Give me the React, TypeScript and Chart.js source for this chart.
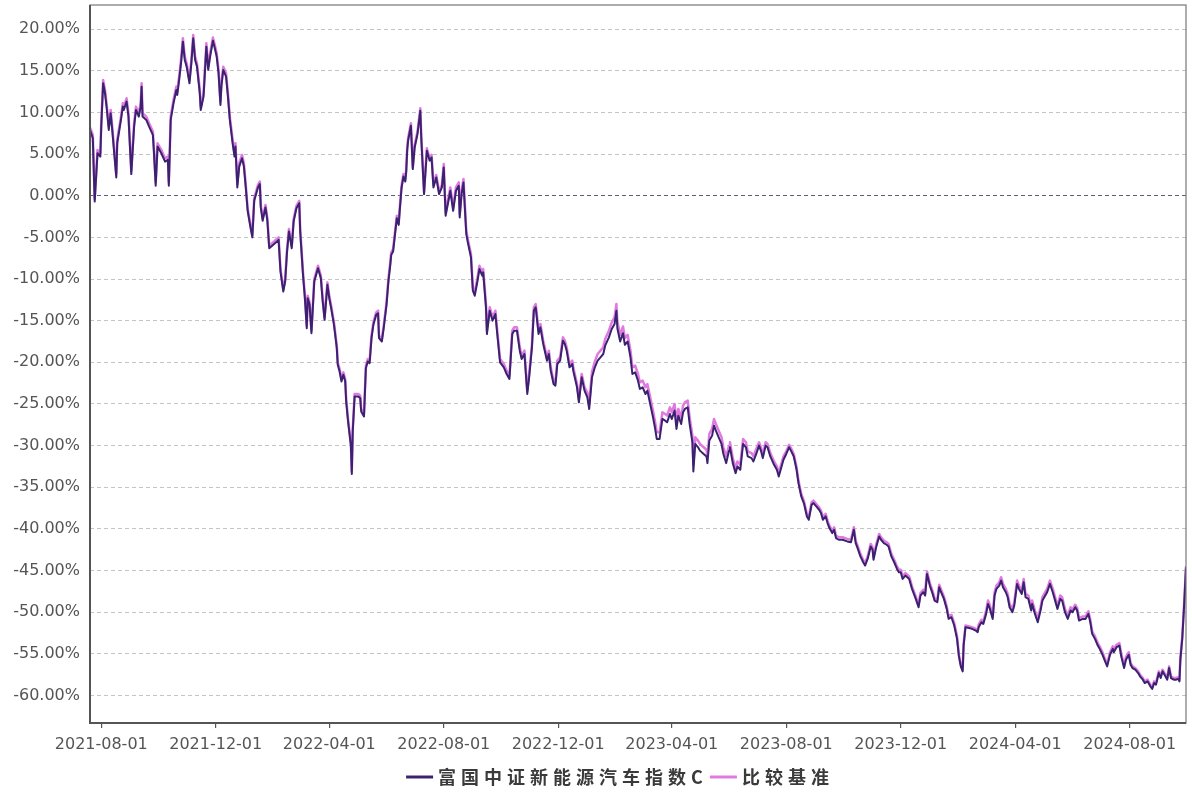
import React, { useEffect, useRef } from "react";
import { Chart, registerables } from "chart.js";

Chart.register(...registerables);

const seriesNames = ["富国中证新能源汽车指数C", "比较基准"];
const seriesColors = ["#3a2270", "#e07ae0"];

const dates = [
  "2021-07-20", "2021-07-23", "2021-07-25", "2021-07-28", "2021-07-31",
  "2021-08-01", "2021-08-03", "2021-08-05", "2021-08-07", "2021-08-09", "2021-08-11", "2021-08-13", "2021-08-17", "2021-08-18", "2021-08-22", "2021-08-24", "2021-08-25", "2021-08-28", "2021-08-30",
  "2021-09-02", "2021-09-05", "2021-09-07", "2021-09-10", "2021-09-12", "2021-09-13", "2021-09-14", "2021-09-18", "2021-09-21", "2021-09-25", "2021-09-26", "2021-09-28", "2021-09-30",
  "2021-10-04", "2021-10-08", "2021-10-11", "2021-10-12", "2021-10-14", "2021-10-17", "2021-10-20", "2021-10-21", "2021-10-23", "2021-10-25", "2021-10-27", "2021-10-29", "2021-10-31",
  "2021-11-03", "2021-11-05", "2021-11-07", "2021-11-09", "2021-11-11", "2021-11-14", "2021-11-15", "2021-11-18", "2021-11-21", "2021-11-23", "2021-11-25", "2021-11-28", "2021-11-30",
  "2021-12-02", "2021-12-04", "2021-12-06", "2021-12-07", "2021-12-09", "2021-12-12", "2021-12-14", "2021-12-16", "2021-12-19", "2021-12-21", "2021-12-22", "2021-12-24", "2021-12-26", "2021-12-29", "2021-12-31",
  "2022-01-02", "2022-01-04", "2022-01-07", "2022-01-09", "2022-01-11", "2022-01-15", "2022-01-17", "2022-01-18", "2022-01-20", "2022-01-23", "2022-01-25", "2022-01-27", "2022-01-31",
  "2022-02-06", "2022-02-08", "2022-02-11", "2022-02-13", "2022-02-15", "2022-02-17", "2022-02-20", "2022-02-22", "2022-02-25", "2022-02-28",
  "2022-03-01", "2022-03-04", "2022-03-06", "2022-03-08", "2022-03-09", "2022-03-11", "2022-03-13", "2022-03-16", "2022-03-18", "2022-03-20", "2022-03-23", "2022-03-25", "2022-03-27", "2022-03-30",
  "2022-04-01", "2022-04-03", "2022-04-06", "2022-04-09", "2022-04-10", "2022-04-12", "2022-04-14", "2022-04-16", "2022-04-18", "2022-04-19", "2022-04-21", "2022-04-24", "2022-04-25", "2022-04-26", "2022-04-28",
  "2022-05-02", "2022-05-04", "2022-05-05", "2022-05-08", "2022-05-10", "2022-05-12", "2022-05-14", "2022-05-16", "2022-05-18", "2022-05-21", "2022-05-23", "2022-05-24", "2022-05-27", "2022-05-29",
  "2022-06-01", "2022-06-03", "2022-06-05", "2022-06-06", "2022-06-08", "2022-06-10", "2022-06-12", "2022-06-14", "2022-06-15", "2022-06-17", "2022-06-19", "2022-06-21", "2022-06-22", "2022-06-23", "2022-06-24", "2022-06-27", "2022-06-29",
  "2022-07-01", "2022-07-04", "2022-07-07", "2022-07-08", "2022-07-11", "2022-07-14", "2022-07-17", "2022-07-19", "2022-07-21", "2022-07-24", "2022-07-27", "2022-07-30",
  "2022-08-01", "2022-08-03", "2022-08-06", "2022-08-08", "2022-08-11", "2022-08-14", "2022-08-17", "2022-08-18", "2022-08-20", "2022-08-22", "2022-08-25", "2022-08-27", "2022-08-30",
  "2022-09-01", "2022-09-03", "2022-09-06", "2022-09-08", "2022-09-11", "2022-09-12", "2022-09-15", "2022-09-16", "2022-09-19", "2022-09-22", "2022-09-25", "2022-09-27", "2022-09-30",
  "2022-10-04", "2022-10-07", "2022-10-10", "2022-10-13", "2022-10-15", "2022-10-18", "2022-10-21", "2022-10-23", "2022-10-26", "2022-10-29", "2022-10-31",
  "2022-11-03", "2022-11-05", "2022-11-07", "2022-11-10", "2022-11-12", "2022-11-15", "2022-11-19", "2022-11-21", "2022-11-23", "2022-11-26", "2022-11-28", "2022-11-30",
  "2022-12-03", "2022-12-06", "2022-12-08", "2022-12-10", "2022-12-13", "2022-12-16", "2022-12-17", "2022-12-21", "2022-12-23", "2022-12-26", "2022-12-29",
  "2023-01-01", "2023-01-03", "2023-01-06", "2023-01-09", "2023-01-12", "2023-01-15", "2023-01-18", "2023-01-20", "2023-01-24", "2023-01-27", "2023-01-30",
  "2023-02-01", "2023-02-02", "2023-02-05", "2023-02-08", "2023-02-10", "2023-02-13", "2023-02-16", "2023-02-18", "2023-02-21", "2023-02-24", "2023-02-26",
  "2023-03-01", "2023-03-04", "2023-03-06", "2023-03-09", "2023-03-12", "2023-03-14", "2023-03-16", "2023-03-19", "2023-03-22", "2023-03-25", "2023-03-27", "2023-03-30",
  "2023-04-01", "2023-04-04", "2023-04-06", "2023-04-08", "2023-04-11", "2023-04-13", "2023-04-15", "2023-04-18", "2023-04-20", "2023-04-23", "2023-04-24", "2023-04-26", "2023-04-29",
  "2023-05-01", "2023-05-05", "2023-05-08", "2023-05-09", "2023-05-11", "2023-05-14", "2023-05-16", "2023-05-18", "2023-05-21", "2023-05-24", "2023-05-26", "2023-05-29",
  "2023-06-01", "2023-06-02", "2023-06-05", "2023-06-08", "2023-06-10", "2023-06-13", "2023-06-16", "2023-06-19", "2023-06-21", "2023-06-25", "2023-06-27", "2023-06-30",
  "2023-07-03", "2023-07-05", "2023-07-07", "2023-07-10", "2023-07-12", "2023-07-15", "2023-07-19", "2023-07-22", "2023-07-24", "2023-07-27", "2023-07-29",
  "2023-08-01", "2023-08-04", "2023-08-06", "2023-08-09", "2023-08-12", "2023-08-14", "2023-08-17", "2023-08-20", "2023-08-23", "2023-08-25", "2023-08-28", "2023-08-30",
  "2023-09-02", "2023-09-05", "2023-09-07", "2023-09-09", "2023-09-12", "2023-09-14", "2023-09-16", "2023-09-19", "2023-09-21", "2023-09-23", "2023-09-26", "2023-09-30",
  "2023-10-05", "2023-10-09", "2023-10-12", "2023-10-14", "2023-10-16", "2023-10-19", "2023-10-22", "2023-10-24", "2023-10-27", "2023-10-30",
  "2023-11-01", "2023-11-02", "2023-11-05", "2023-11-08", "2023-11-10", "2023-11-13", "2023-11-16", "2023-11-18", "2023-11-21", "2023-11-24", "2023-11-27", "2023-11-29",
  "2023-12-01", "2023-12-03", "2023-12-06", "2023-12-10", "2023-12-13", "2023-12-17", "2023-12-20", "2023-12-22", "2023-12-25", "2023-12-27", "2023-12-29",
  "2024-01-01", "2024-01-04", "2024-01-06", "2024-01-09", "2024-01-11", "2024-01-13", "2024-01-16", "2024-01-19", "2024-01-21", "2024-01-24", "2024-01-27", "2024-01-30",
  "2024-02-01", "2024-02-03", "2024-02-05", "2024-02-06", "2024-02-08", "2024-02-12", "2024-02-15", "2024-02-19", "2024-02-21", "2024-02-22", "2024-02-25", "2024-02-27",
  "2024-03-01", "2024-03-03", "2024-03-05", "2024-03-08", "2024-03-10", "2024-03-12", "2024-03-15", "2024-03-17", "2024-03-19", "2024-03-22", "2024-03-24", "2024-03-26", "2024-03-29", "2024-03-31",
  "2024-04-03", "2024-04-05", "2024-04-08", "2024-04-10", "2024-04-12", "2024-04-15", "2024-04-18", "2024-04-19", "2024-04-22", "2024-04-25", "2024-04-28", "2024-04-30",
  "2024-05-03", "2024-05-05", "2024-05-08", "2024-05-11", "2024-05-13", "2024-05-16", "2024-05-19", "2024-05-21", "2024-05-24", "2024-05-27", "2024-05-30",
  "2024-06-01", "2024-06-04", "2024-06-06", "2024-06-08", "2024-06-12", "2024-06-15", "2024-06-18", "2024-06-20", "2024-06-22", "2024-06-25", "2024-06-28", "2024-06-30",
  "2024-07-03", "2024-07-05", "2024-07-08", "2024-07-11", "2024-07-14", "2024-07-15", "2024-07-18", "2024-07-21", "2024-07-23", "2024-07-26", "2024-07-28", "2024-07-31",
  "2024-08-02", "2024-08-04", "2024-08-07", "2024-08-10", "2024-08-12", "2024-08-15", "2024-08-17", "2024-08-20", "2024-08-23", "2024-08-25", "2024-08-27", "2024-08-29",
  "2024-09-01", "2024-09-03", "2024-09-05", "2024-09-08", "2024-09-10", "2024-09-12", "2024-09-14", "2024-09-17", "2024-09-19", "2024-09-22", "2024-09-23", "2024-09-24", "2024-09-26", "2024-09-28", "2024-09-30",
];

const fundReturns = [
  7.9, 6.9, -0.7, 5.1, 4.7,
  8.3, 13.5, 12.3, 10.3, 7.9, 9.9, 7.5, 2.2, 6.3, 9.1, 10.7, 10.3, 11.3, 9.5,
  2.6, 8.3, 10.3, 9.5, 10.7, 13.1, 9.5, 9.1, 8.3, 7.3, 5.5, 1.2, 5.9,
  5.1, 4.1, 4.3, 1.2, 9.1, 11.1, 12.7, 12.1, 13.9, 15.9, 18.5, 16.3, 15.5,
  13.5, 15.9, 18.9, 16.3, 15.5, 12.3, 10.3, 11.9, 17.9, 15.1, 16.7, 18.6, 17.7,
  16.7, 14.7, 10.9, 13.1, 15.1, 14.3, 11.9, 9.1, 6.3, 4.7, 5.9, 1.0, 3.5, 4.5, 3.5,
  1.0, -1.8, -3.8, -5.0, -0.6, 1.0, 1.4, -1.4, -3.0, -1.4, -3.0, -6.3, -5.9,
  -5.3, -9.1, -11.5, -10.3, -6.7, -4.3, -6.3, -3.1, -1.5, -0.9,
  -4.3, -9.5, -12.3, -15.9, -12.3, -13.1, -16.5, -10.3, -9.5, -8.7, -9.9, -12.7, -14.9, -10.7,
  -12.3, -13.5, -15.5, -18.3, -20.3, -21.1, -22.3, -21.5, -22.3, -24.7, -27.1, -30.0, -33.4, -28.3, -24.1,
  -24.1, -24.3, -25.9, -26.5, -20.7, -19.9, -20.1, -17.1, -15.5, -14.3, -14.1, -17.1, -17.5, -15.9,
  -13.1, -10.3, -8.3, -7.1, -6.7, -4.7, -2.7, -3.5, -1.9, 0.9, 2.3, 1.7, 2.9, 5.4, 6.6, 8.4, 3.2,
  5.8, 7.4, 10.2, 7.0, 0.2, 5.4, 4.2, 4.6, 1.0, 2.2, 0.2, 1.0,
  3.4, -2.4, -0.6, 0.6, -1.8, 0.6, 1.2, -2.6, 0.2, 1.6, -4.6, -5.8, -7.4,
  -11.4, -12.0, -10.2, -8.8, -9.6, -9.2, -13.4, -16.6, -13.8, -15.0, -14.2, -16.6, -20.0,
  -20.6, -21.4, -22.0, -16.6, -16.2, -16.2, -18.6, -19.6, -19.0, -23.8, -21.8,
  -18.2, -13.8, -13.4, -16.6, -15.8, -17.8, -19.8, -19.0, -21.0, -22.6, -22.8, -20.2,
  -19.8, -17.4, -17.8, -18.6, -20.6, -20.2, -21.0, -23.0, -24.8, -21.8, -23.4,
  -24.2, -25.6, -21.8, -20.6, -19.8, -19.4, -19.0, -18.0, -17.0, -16.0, -15.4,
  -13.8, -15.9, -17.5, -16.5, -17.9, -17.5, -19.4, -21.4, -21.2, -22.2, -23.2,
  -23.0, -23.8, -23.4, -25.0, -26.6, -27.8, -29.2, -29.2, -26.8, -27.0, -27.2, -26.2,
  -26.8, -25.8, -28.0, -26.4, -27.4, -26.0, -25.6, -25.4, -27.4, -29.6, -33.1, -29.8, -30.2,
  -30.6, -31.0, -31.3, -32.1, -29.4, -28.8, -27.6, -28.2, -29.0, -29.8, -31.0, -32.1,
  -30.6, -30.2, -32.1, -33.3, -32.5, -32.9, -29.8, -30.2, -31.3, -31.5, -31.9, -31.0,
  -30.0, -30.6, -31.5, -30.0, -30.2, -31.3, -32.3, -32.9, -33.7, -32.5, -31.7,
  -31.0, -30.2, -30.6, -31.3, -32.9, -34.5, -36.1, -37.0, -38.5, -38.9, -37.1, -36.9,
  -37.3, -37.7, -38.1, -38.9, -38.5, -39.3, -39.9, -40.5, -40.1, -41.1, -41.3, -41.3,
  -41.5, -41.6, -40.1, -41.7, -42.3, -43.3, -44.0, -44.4, -43.5, -42.1,
  -42.5, -43.7, -42.1, -40.9, -41.3, -41.7, -41.9, -42.1, -43.3, -44.0, -44.8, -45.2,
  -45.2, -46.0, -45.6, -46.0, -47.2, -48.4, -49.4, -48.0, -47.6, -48.0, -45.4,
  -46.8, -47.8, -48.6, -48.8, -47.0, -47.6, -48.4, -49.6, -50.8, -50.6, -51.6, -53.2,
  -55.3, -56.5, -57.1, -54.0, -51.8, -51.9, -52.0, -52.2, -52.4, -51.8, -51.2, -51.4,
  -50.2, -49.0, -49.6, -50.8, -48.0, -47.2, -46.8, -46.2, -47.0, -47.6, -48.2, -49.4, -50.0, -49.2,
  -46.6, -47.2, -47.8, -46.4, -48.2, -48.4, -49.8, -49.0, -50.2, -51.2, -49.8, -48.6,
  -48.0, -47.6, -46.6, -47.6, -48.4, -49.6, -48.4, -48.6, -50.0, -50.8, -49.8,
  -50.0, -49.4, -49.8, -51.0, -50.8, -50.8, -50.2, -51.2, -52.6, -53.2, -54.0, -54.4,
  -55.1, -55.7, -56.5, -55.1, -54.4, -54.8, -54.2, -54.0, -55.3, -56.7, -55.7, -55.1,
  -56.3, -56.7, -56.9, -57.3, -57.7, -58.1, -58.5, -58.3, -58.9, -59.2, -58.5, -58.7,
  -57.3, -57.9, -57.1, -57.7, -58.1, -56.7, -57.9, -58.1, -58.1, -58.0, -58.3, -55.7, -53.2, -49.2, -44.6,
];

const benchReturns = [
  8.2, 7.3, -0.4, 5.5, 5.1,
  8.7, 13.9, 12.7, 10.7, 8.3, 10.3, 7.9, 2.6, 6.7, 9.5, 11.1, 10.7, 11.7, 9.9,
  3.0, 8.7, 10.7, 9.9, 11.1, 13.5, 9.9, 9.5, 8.7, 7.7, 5.9, 1.6, 6.3,
  5.5, 4.5, 4.7, 1.6, 9.5, 11.5, 13.1, 12.5, 14.3, 16.3, 18.9, 16.7, 15.9,
  13.9, 16.3, 19.3, 16.7, 15.9, 12.7, 10.7, 12.3, 18.3, 15.5, 17.1, 19.0, 18.1,
  17.1, 15.1, 11.3, 13.5, 15.5, 14.7, 12.3, 9.5, 6.7, 5.1, 6.3, 1.4, 3.9, 4.9, 3.9,
  1.3, -1.5, -3.5, -4.7, -0.3, 1.3, 1.7, -1.1, -2.7, -1.1, -2.7, -6.0, -5.6,
  -5.0, -8.8, -11.2, -10.0, -6.4, -4.0, -6.0, -2.8, -1.2, -0.6,
  -4.0, -9.2, -12.0, -15.6, -12.0, -12.8, -16.2, -10.0, -9.2, -8.4, -9.6, -12.4, -14.6, -10.4,
  -12.0, -13.2, -15.2, -18.0, -20.0, -20.8, -22.0, -21.2, -22.0, -24.4, -26.8, -29.7, -33.1, -28.0, -23.8,
  -23.8, -24.0, -25.6, -26.2, -20.4, -19.6, -19.8, -16.8, -15.2, -14.0, -13.8, -16.8, -17.2, -15.6,
  -12.8, -10.0, -8.0, -6.8, -6.4, -4.4, -2.4, -3.2, -1.6, 1.2, 2.6, 2.0, 3.2, 5.7, 6.9, 8.7, 3.5,
  6.1, 7.7, 10.5, 7.3, 0.5, 5.7, 4.5, 4.9, 1.3, 2.5, 0.5, 1.3,
  3.8, -2.0, -0.2, 1.0, -1.4, 1.0, 1.6, -2.2, 0.6, 2.0, -4.2, -5.4, -7.0,
  -11.0, -11.6, -9.8, -8.4, -9.2, -8.8, -13.0, -16.2, -13.4, -14.6, -13.8, -16.2, -19.6,
  -20.2, -21.0, -21.6, -16.2, -15.8, -15.8, -18.2, -19.2, -18.6, -23.4, -21.4,
  -17.8, -13.4, -13.0, -16.2, -15.4, -17.4, -19.4, -18.6, -20.6, -22.2, -22.4, -19.8,
  -19.4, -17.0, -17.4, -18.2, -20.2, -19.8, -20.6, -22.6, -24.4, -21.4, -23.0,
  -23.6, -25.0, -21.1, -19.9, -19.0, -18.6, -18.2, -17.2, -16.2, -15.2, -14.6,
  -13.0, -15.1, -16.7, -15.7, -17.1, -16.7, -18.6, -20.6, -20.4, -21.4, -22.4,
  -22.2, -23.0, -22.6, -24.2, -25.8, -27.0, -28.4, -28.4, -26.0, -26.2, -26.4, -25.4,
  -26.0, -25.0, -27.2, -25.6, -26.6, -25.2, -24.8, -24.6, -26.6, -28.8, -32.3, -29.0, -29.4,
  -29.8, -30.2, -30.5, -31.3, -28.6, -28.0, -26.8, -27.4, -28.2, -29.0, -30.2, -31.3,
  -30.0, -29.6, -31.5, -32.7, -31.9, -32.3, -29.2, -29.6, -30.7, -30.9, -31.3, -30.4,
  -29.6, -30.2, -31.1, -29.6, -29.8, -30.9, -31.9, -32.5, -33.3, -32.1, -31.3,
  -30.7, -29.9, -30.3, -31.0, -32.6, -34.2, -35.8, -36.7, -38.2, -38.6, -36.8, -36.6,
  -37.0, -37.4, -37.8, -38.6, -38.2, -39.0, -39.6, -40.2, -39.8, -40.8, -41.0, -41.0,
  -41.2, -41.3, -39.8, -41.4, -42.0, -43.0, -43.7, -44.1, -43.2, -41.8,
  -42.2, -43.4, -41.8, -40.6, -41.0, -41.4, -41.6, -41.8, -43.0, -43.7, -44.5, -44.9,
  -44.9, -45.7, -45.3, -45.7, -46.9, -48.1, -49.1, -47.7, -47.3, -47.7, -45.1,
  -46.5, -47.5, -48.3, -48.5, -46.7, -47.3, -48.1, -49.3, -50.5, -50.3, -51.3, -52.9,
  -55.1, -56.3, -56.9, -53.8, -51.6, -51.7, -51.8, -52.0, -52.2, -51.5, -50.9, -51.1,
  -49.8, -48.6, -49.2, -50.4, -47.6, -46.8, -46.4, -45.8, -46.6, -47.2, -47.8, -49.0, -49.6, -48.8,
  -46.2, -46.8, -47.4, -46.0, -47.8, -48.0, -49.4, -48.6, -49.8, -50.8, -49.4, -48.2,
  -47.6, -47.2, -46.2, -47.2, -48.0, -49.2, -48.0, -48.2, -49.6, -50.4, -49.4,
  -49.7, -49.1, -49.5, -50.7, -50.5, -50.5, -49.9, -50.9, -52.3, -52.9, -53.7, -54.1,
  -54.8, -55.4, -56.2, -54.8, -54.1, -54.5, -53.9, -53.7, -55.0, -56.4, -55.4, -54.8,
  -56.1, -56.5, -56.7, -57.1, -57.5, -57.9, -58.3, -58.1, -58.7, -59.0, -58.3, -58.5,
  -57.1, -57.7, -56.9, -57.5, -57.9, -56.5, -57.7, -57.9, -57.9, -57.8, -58.1, -55.5, -53.0, -49.0, -44.5,
];

const xTickLabels = [
  "2021-08-01", "2021-12-01", "2022-04-01", "2022-08-01", "2022-12-01",
  "2023-04-01", "2023-08-01", "2023-12-01", "2024-04-01", "2024-08-01",
];

const yAxisMin = -63.3;
const yAxisMax = 22.9;
const yStep = 5;

const toDay = (s: string) => {
  const [y, m, d] = s.split("-").map(Number);
  return Date.UTC(y, m - 1, d) / 86400000;
};

const W = 1192;
const H = 796;

const framePlugin = {
  id: "frameBox",
  afterDraw(chart: any) {
    const { ctx, chartArea: a } = chart;
    ctx.save();
    ctx.strokeStyle = "#777";
    ctx.lineWidth = 1.2;
    ctx.strokeRect(a.left, a.top, a.right - a.left, a.bottom - a.top);
    ctx.strokeStyle = "#555";
    ctx.lineWidth = 2;
    ctx.beginPath();
    ctx.moveTo(a.left, a.top);
    ctx.lineTo(a.left, a.bottom);
    ctx.lineTo(a.right, a.bottom);
    ctx.stroke();
    ctx.restore();
  },
};

const legendPlugin = {
  id: "spacedLegend",
  afterDraw(chart: any) {
    const ctx = chart.ctx;
    const items = chart.data.datasets.map((ds: any) => ({
      text: ds.label as string,
      color: ds.borderColor as string,
    }));
    ctx.save();
    ctx.font = 'bold 18px "Noto Sans CJK SC", sans-serif';
    (ctx as any).letterSpacing = "5px";
    ctx.textBaseline = "middle";
    ctx.textAlign = "left";
    const lineLen = 27;
    const gapText = 5;
    const gapItem = 2;
    const widths = items.map((it: any) => lineLen + gapText + ctx.measureText(it.text).width);
    const total = widths.reduce((s: number, w: number) => s + w, 0) + gapItem * (items.length - 1);
    const centerX = 620;
    const y = 777;
    let x = centerX - total / 2;
    items.forEach((it: any, i: number) => {
      ctx.strokeStyle = it.color;
      ctx.lineWidth = 3;
      ctx.beginPath();
      ctx.moveTo(x, y);
      ctx.lineTo(x + lineLen, y);
      ctx.stroke();
      ctx.fillStyle = "#3a3a3a";
      ctx.fillText(it.text, x + lineLen + gapText, y);
      x += widths[i] + gapItem;
    });
    ctx.restore();
  },
};

export default function App() {
  const canvasRef = useRef<HTMLCanvasElement | null>(null);

  useEffect(() => {
    if (!canvasRef.current) return;
    const n = Math.min(dates.length, fundReturns.length, benchReturns.length);
    const fundPts = [] as { x: number; y: number }[];
    const benchPts = [] as { x: number; y: number }[];
    for (let i = 0; i < n; i++) {
      const d = toDay(dates[i]);
      fundPts.push({ x: d, y: fundReturns[i] });
      benchPts.push({ x: d, y: benchReturns[i] });
    }
    const tickDays = xTickLabels.map(toDay);
    const labelMap = new Map<number, string>();
    tickDays.forEach((d, i) => labelMap.set(d, xTickLabels[i]));

    const chart = new Chart(canvasRef.current, {
      type: "line",
      data: {
        datasets: [
          {
            label: seriesNames[0],
            data: fundPts,
            borderColor: seriesColors[0],
            backgroundColor: seriesColors[0],
            borderWidth: 2,
            pointRadius: 0,
            tension: 0,
            borderJoinStyle: "round",
          },
          {
            label: seriesNames[1],
            data: benchPts,
            borderColor: seriesColors[1],
            backgroundColor: seriesColors[1],
            borderWidth: 2.5,
            pointRadius: 0,
            tension: 0,
            borderJoinStyle: "round",
          },
        ],
      },
      options: {
        responsive: false,
        animation: false,
        events: [],
        layout: { padding: { left: 0, right: 6, top: 5, bottom: 0 } },
        plugins: {
          legend: { display: false },
          tooltip: { enabled: false },
        },
        scales: {
          x: {
            type: "linear",
            min: toDay(dates[0]),
            max: toDay(dates[n - 1]),
            afterBuildTicks: (scale: any) => {
              scale.ticks = tickDays.map((v) => ({ value: v }));
            },
            afterFit: (scale: any) => {
              scale.height = 73;
              scale.paddingLeft = 0;
              scale.paddingRight = 0;
            },
            ticks: {
              autoSkip: false,
              maxRotation: 0,
              padding: 7,
              color: "#555",
              font: { family: '"DejaVu Sans", sans-serif', size: 16 },
              callback: (v: any) => labelMap.get(Number(v)) ?? "",
            },
            grid: {
              display: true,
              drawOnChartArea: false,
              drawTicks: true,
              tickLength: 5,
              color: "#555",
              lineWidth: 1.2,
            },
            border: { display: false },
          },
          y: {
            type: "linear",
            min: yAxisMin,
            max: yAxisMax,
            afterFit: (scale: any) => {
              scale.width = 90;
              scale.paddingTop = 0;
              scale.paddingBottom = 0;
            },
            ticks: {
              stepSize: yStep,
              includeBounds: false,
              padding: 10,
              color: "#555",
              font: { family: '"DejaVu Sans", sans-serif', size: 16 },
              callback: (v: any) => Number(v).toFixed(2) + "%",
            },
            grid: {
              drawTicks: false,
              color: (c: any) => (c.tick && c.tick.value === 0 ? "#5c5c80" : "#c4c4c4"),
              lineWidth: 1,
            },
            border: { display: false, dash: [4, 3] },
          },
        },
      },
      plugins: [framePlugin, legendPlugin],
    } as any);

    return () => chart.destroy();
  }, []);

  return (
    <div style={{ position: "absolute", left: 0, top: 0, width: W, height: H, background: "#fff" }}>
      <canvas ref={canvasRef} width={W} height={H} style={{ width: W, height: H, display: "block" }} />
    </div>
  );
}
